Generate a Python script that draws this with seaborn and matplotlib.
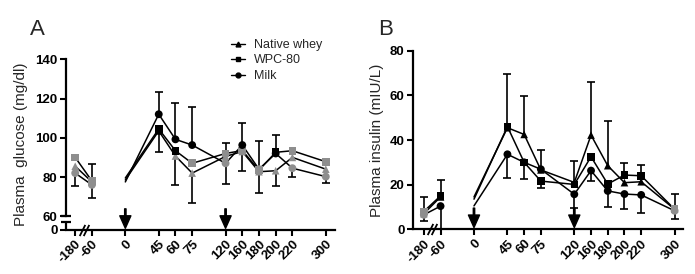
import numpy as np
import pandas as pd
import matplotlib
matplotlib.use('Agg')
import matplotlib.pyplot as plt
from matplotlib.lines import Line2D
import seaborn as sns

# time axis (min) and its GraphPad-like uneven slot spacing
times = [-180, -60, 0, 45, 60, 75, 120, 160, 180, 200, 220, 300]
tick_slots = [0, 1, 3, 5, 6, 7, 9, 10, 11, 12, 13, 15]
dose_times = [0, 120]

series_names = ['Native whey', 'WPC-80', 'Milk']
series_markers = {'Native whey': '^', 'WPC-80': 's', 'Milk': 'o'}
marker_sizes = {'Native whey': 30, 'WPC-80': 30, 'Milk': 32}

# Panel A - plasma glucose (mg/dl)
glu_native = [85.5, 77.5, 78.5, 103.5, 90.7, 82, 90.5, 93, 82.7, 83.2, 90, 84]
glu_wpc = [90, 78, 79.5, 104.5, 93.4, 87, 92, 93.5, 83.5, 92.6, 93.4, 87.8]
glu_milk = [82, 76, 77.5, 112, 99.2, 96.3, 87, 96.3, 84, 92, 84.5, 80.2]

glu_native_hi = [0, 0, 0, 0, 0, 0, 0, 0, 0, 0, 0, 0]
glu_native_lo = [0, 0, 0, 10.5, 15, 15, 0, 0, 0, 8, 0, 0]
glu_wpc_hi = [0, 8.6, 0, 0, 0, 0, 5.2, 0, 15, 8.8, 0, 0]
glu_wpc_lo = [0, 0, 0, 0, 0, 0, 0, 10.3, 0, 0, 0, 0]
glu_milk_hi = [0, 0, 0, 11.5, 18.7, 19.2, 0, 11.4, 0, 0, 0, 0]
glu_milk_lo = [6.5, 6.7, 0, 0, 0, 0, 10.7, 0, 12, 0, 4.3, 3.1]

# Panel B - plasma insulin (mIU/L)
ins_native = [7, 14.5, 14.5, 45.5, 42.5, 26.6, 21, 42.2, 28.5, 20.9, 21.3, 9]
ins_wpc = [8, 15, 13.5, 46, 30, 21.6, 20.1, 32.5, 20.3, 24.3, 24, 9]
ins_milk = [6.5, 10.4, 10.5, 33.6, 30, 26.9, 15.7, 26.3, 17.2, 15.8, 15.4, 8.3]

ins_native_hi = [0, 0, 0, 0, 17.3, 9.1, 9.6, 23.6, 20, 0, 0, 0]
ins_native_lo = [0, 0, 0, 0, 0, 0, 0, 0, 0, 0, 0, 0]
ins_wpc_hi = [6.3, 7.1, 0, 23.6, 0, 0, 0, 0, 0, 5.3, 4.8, 6.7]
ins_wpc_lo = [0, 0, 0, 0, 0, 3, 0, 0, 0, 0, 0, 0]
ins_milk_hi = [0, 0, 0, 0, 0, 0, 0, 0, 0, 0, 0, 0]
ins_milk_lo = [2.6, 10.4, 0, 10.8, 7.6, 0, 6.3, 4.7, 7.4, 6.7, 8, 3.8]

# markers that come out grey in the original
glu_grey = {'Native whey': [-180, -60, 60, 75, 120, 160, 180, 200, 220, 300],
            'WPC-80': [-180, -60, 75, 120, 160, 180, 220, 300],
            'Milk': [-180, -60, 120, 180, 220, 300]}
ins_grey = {'Native whey': [-180, 300], 'WPC-80': [-180, 300], 'Milk': [-180, 300]}

GREY = '#8e8e8e'

sns.set_theme(style='ticks')
plt.rcParams['font.family'] = ['Liberation Sans', 'DejaVu Sans']


def build_frame(values, hi, lo, grey):
    rows = []
    for name, v, h, l in zip(series_names, values, hi, lo):
        for t, s, y, eh, el in zip(times, tick_slots, v, h, l):
            rows.append(dict(series=name, time=t, slot=s, value=y, hi=eh, lo=el,
                             shade='grey' if t in grey[name] else 'black'))
    df = pd.DataFrame(rows)
    df['seg'] = np.where(df['time'] < 0, 'pre', 'post')
    return df


def draw_panel(ax, df, ybot):
    for name in series_names:
        sub = df[df['series'] == name]
        sns.lineplot(data=sub, x='slot', y='value', units='seg', estimator=None,
                     color='black', lw=1.1, sort=False, legend=False, ax=ax, zorder=2)
    # one-sided error bars
    up = df[df['hi'] > 0]
    ax.vlines(up['slot'], up['value'], up['value'] + up['hi'], color='black', lw=1.2, zorder=2.5)
    ax.plot(up['slot'], up['value'] + up['hi'], ls='none', marker='_', ms=6, mew=1.2,
            color='black', zorder=2.5)
    dn = df[df['lo'] > 0]
    ax.vlines(dn['slot'], np.maximum(dn['value'] - dn['lo'], ybot), dn['value'],
              color='black', lw=1.2, zorder=2.5)
    dn_vis = dn[dn['value'] - dn['lo'] > ybot + 0.5]
    ax.plot(dn_vis['slot'], dn_vis['value'] - dn_vis['lo'], ls='none', marker='_', ms=6,
            mew=1.2, color='black', zorder=2.5)
    # markers (none at the dosing time 0)
    for name in series_names:
        m = df[(df['series'] == name) & (~df['time'].isin([0]))]
        sns.scatterplot(data=m, x='slot', y='value', hue='shade',
                        palette={'black': 'black', 'grey': GREY},
                        marker=series_markers[name], s=marker_sizes[name],
                        edgecolor='none', legend=False, ax=ax, zorder=3)
    # dosing arrows
    for t in dose_times:
        s = tick_slots[times.index(t)]
        ax.annotate('', xy=(s, 0.01), xycoords=ax.get_xaxis_transform(),
                    xytext=(0, 14), textcoords='offset points',
                    arrowprops=dict(width=1.0, headwidth=8, headlength=9,
                                    color='black', shrink=0), annotation_clip=False)
    # x-axis break "//" between -180 and -60
    ax.plot([0.38, 0.62], [ybot, ybot], ls='none', marker=[(-1, -2), (1, 2)], ms=8,
            mew=1.3, color='black', clip_on=False, zorder=5)

    ax.set_xticks(tick_slots)
    ax.set_xticklabels([str(t) for t in times], rotation=45, ha='right',
                       rotation_mode='anchor', fontsize=9.5, fontweight='bold')
    ax.tick_params(axis='both', direction='out', length=4, width=1.5, colors='black',
                   labelsize=9.5, pad=2)
    for lab in ax.get_yticklabels():
        lab.set_fontweight('bold')
    for sp in ['top', 'right']:
        ax.spines[sp].set_visible(False)
    for sp in ['left', 'bottom']:
        ax.spines[sp].set_linewidth(1.6)
        ax.spines[sp].set_color('black')
    ax.set_xlabel('')


fig = plt.figure(figsize=(6.95, 2.74), dpi=100)
axA = fig.add_axes([0.0950, 0.1606, 0.387, 0.623])
axB = fig.add_axes([0.5942, 0.1631, 0.3885, 0.6518])

# Panel A
ybotA = 53
dfA = build_frame([glu_native, glu_wpc, glu_milk],
                  [glu_native_hi, glu_wpc_hi, glu_milk_hi],
                  [glu_native_lo, glu_wpc_lo, glu_milk_lo], glu_grey)
draw_panel(axA, dfA, ybotA)
axA.set_xlim(-0.55, 15.55)
axA.set_ylim(ybotA, 140)
axA.set_yticks([ybotA, 60, 80, 100, 120, 140])
axA.set_yticklabels(['0', '60', '80', '100', '120', '140'], fontweight='bold')
axA.spines['left'].set_bounds(60, 140)
ytr = axA.get_yaxis_transform()
axA.plot([0, 0], [ybotA, 57], color='black', lw=1.6, transform=ytr, clip_on=False)
axA.plot([0, 0], [60, 57], ls='none', marker='_', ms=7, mew=1.6, color='black',
         transform=ytr, clip_on=False)
axA.set_ylabel('Plasma  glucose (mg/dl)', fontsize=11, labelpad=5)

handles = [Line2D([], [], color='black', lw=1.0, marker=series_markers[n], ms=3.5)
           for n in series_names]
axA.legend(handles, series_names, loc='upper left', bbox_to_anchor=(0.333, 0.858),
           bbox_transform=fig.transFigure, frameon=False, fontsize=9,
           handlelength=1.1, handletextpad=0.7, labelspacing=0.28, borderpad=0,
           borderaxespad=0)

# Panel B
dfB = build_frame([ins_native, ins_wpc, ins_milk],
                  [ins_native_hi, ins_wpc_hi, ins_milk_hi],
                  [ins_native_lo, ins_wpc_lo, ins_milk_lo], ins_grey)
draw_panel(axB, dfB, 0)
axB.set_xlim(-0.65, 15.5)
axB.set_ylim(0, 80)
axB.set_yticks([0, 20, 40, 60, 80])
axB.set_yticklabels(['0', '20', '40', '60', '80'], fontweight='bold')
axB.set_ylabel('Plasma insulin (mIU/L)', fontsize=11, labelpad=4)

fig.text(30 / 695, 1 - 19 / 274, 'A', fontsize=16, va='top', ha='left')
fig.text(378 / 695, 1 - 19 / 274, 'B', fontsize=16, va='top', ha='left')

fig.savefig('out.png', dpi=100, facecolor='white')
